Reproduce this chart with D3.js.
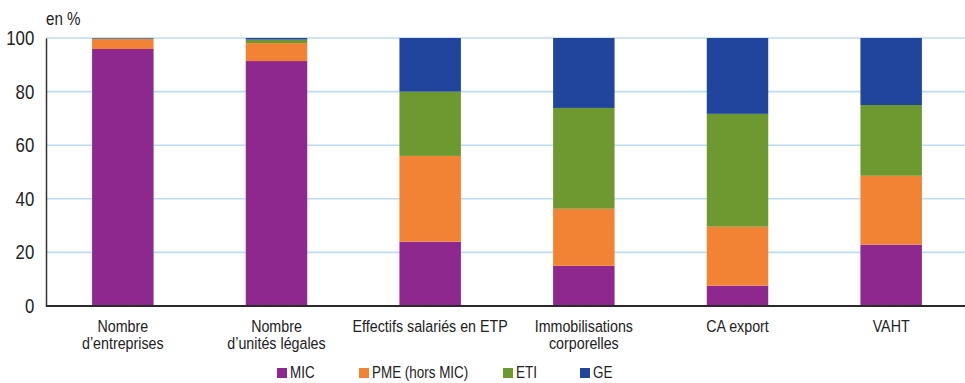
<!DOCTYPE html>
<html><head><meta charset="utf-8">
<script src="https://cdn.jsdelivr.net/npm/d3@7"></script>
<style>
html,body{margin:0;padding:0;background:#fff;}
svg{display:block;font-family:"Liberation Sans",Arial,sans-serif;}
</style></head>
<body>
<svg id="chart" width="965" height="383"></svg>
<script>
const categories = [["Nombre","d\u2019entreprises"],["Nombre","d\u2019unit\u00e9s l\u00e9gales"],["Effectifs salari\u00e9s en ETP"],["Immobilisations","corporelles"],["CA export"],["VAHT"]];
const seriesNames = ["MIC","PME (hors MIC)","ETI","GE"];
const MIC = [95.9, 91.4, 24.0, 15.0, 7.6, 22.9];
const PME = [3.7, 6.7, 32.0, 21.3, 22.0, 25.7];
const ETI = [0.2, 1.3, 24.0, 37.6, 42.1, 26.4];
const GE  = [0.2, 0.6, 20.0, 26.1, 28.3, 25.0];
const yTicks = [0, 20, 40, 60, 80, 100];
const colors = ["#8E278E", "#F28234", "#6E9930", "#21459C"];

const SX = 0.84; // horizontal condensing to imitate a narrow font
const svg = d3.select("#chart");
const x0 = 46, x1 = 968, yTop = 38, yBot = 306;
const keys = categories.map((c,i)=>i);
const x = d3.scaleBand().domain(keys).range([x0, x1]).paddingInner(0.6).paddingOuter(0.3);
const y = d3.scaleLinear().domain([0,100]).range([yBot, yTop]);

function narrowText(parent, px, py, str, size, anchor) {
  return parent.append("text")
    .attr("transform", `translate(${px},${py}) scale(${SX},1)`)
    .attr("text-anchor", anchor || "start")
    .attr("font-size", size).attr("fill", "#222").text(str);
}

// gridlines
svg.append("g").selectAll("line").data(yTicks.filter(d=>d>0)).join("line")
  .attr("x1", x0).attr("x2", 965).attr("y1", d=>y(d)).attr("y2", d=>y(d))
  .attr("stroke", "#BCDCF0").attr("stroke-width", 1.6);

// stacked data
const rows = keys.map(i => ({i, MIC: MIC[i], PME: PME[i], ETI: ETI[i], GE: GE[i]}));
const stack = d3.stack().keys(["MIC","PME","ETI","GE"])(rows);
svg.append("g").selectAll("g").data(stack).join("g")
  .attr("fill", (d,k)=>colors[k])
  .selectAll("rect").data(d=>d).join("rect")
  .attr("x", d=>x(d.data.i)).attr("width", x.bandwidth())
  .attr("y", d=>y(d[1])).attr("height", d=>y(d[0]) - y(d[1]));

// y axis
const yAxis = svg.append("g").attr("transform", `translate(${x0},0)`)
  .call(d3.axisLeft(y).tickValues(yTicks).tickSize(0).tickPadding(14));
yAxis.select(".domain").attr("stroke", "#333").attr("stroke-width", 1.5);
yAxis.selectAll(".tick text")
  .attr("font-size", 20).attr("fill", "#222")
  .attr("font-family", "Liberation Sans, Arial, sans-serif")
  .attr("transform", `scale(${SX},1)`);

// x baseline
svg.append("line").attr("x1", x0).attr("x2", 965).attr("y1", yBot).attr("y2", yBot)
  .attr("stroke", "#2a2a2a").attr("stroke-width", 2);

// category labels
const lab = svg.append("g");
keys.forEach(i => {
  const t = lab.append("text")
    .attr("transform", `translate(${x(i) + x.bandwidth()/2},332) scale(${SX},1)`)
    .attr("text-anchor", "middle").attr("font-size", 17).attr("fill", "#222");
  categories[i].forEach((line, j) => {
    t.append("tspan").attr("x", 0).attr("y", j * 17).text(line);
  });
});

// unit label
narrowText(svg, 46, 25, "en %", 18);

// legend
const legendX = [277, 359, 503, 580];
seriesNames.forEach((name, k) => {
  svg.append("rect").attr("x", legendX[k]).attr("y", 368).attr("width", 10).attr("height", 10).attr("fill", colors[k]);
  narrowText(svg, legendX[k] + 13, 378, name, 16);
});
</script>
</body></html>
